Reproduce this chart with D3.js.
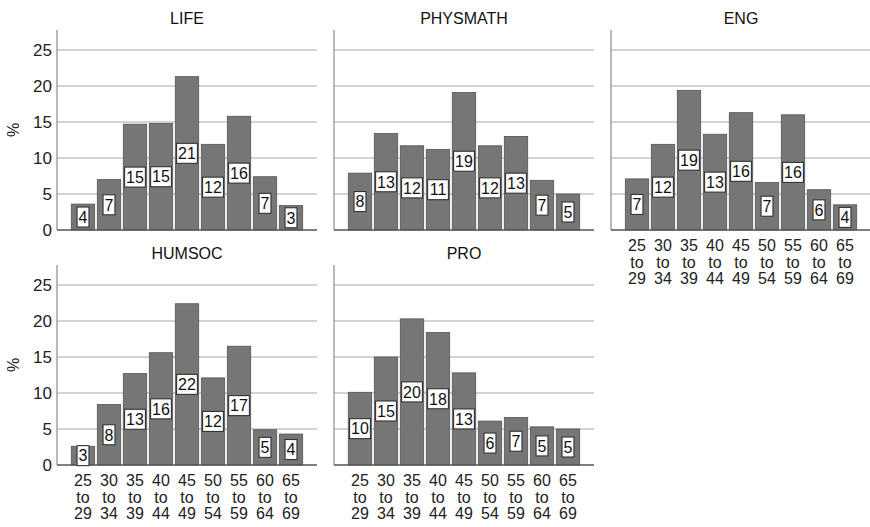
<!DOCTYPE html>
<html>
<head>
<meta charset="utf-8">
<script src="https://cdn.jsdelivr.net/npm/d3@7"></script>
<style>
  html, body { margin: 0; padding: 0; background: #fff; }
  svg { display: block; font-family: "Liberation Sans", Arial, sans-serif; }
</style>
</head>
<body>
<svg id="chart" width="870" height="527"></svg>
<script>
// Age bands shown on every panel
const ageGroups = ["25 to 29", "30 to 34", "35 to 39", "40 to 44", "45 to 49",
                   "50 to 54", "55 to 59", "60 to 64", "65 to 69"];

// Percentage of staff in each age band, by field
const lifeValues     = [3.6, 7.0, 14.7, 14.8, 21.3, 11.9, 15.8, 7.4, 3.4];
const physmathValues = [7.9, 13.4, 11.7, 11.2, 19.1, 11.7, 13.0, 6.9, 5.0];
const engValues      = [7.1, 11.9, 19.4, 13.3, 16.3, 6.6, 16.0, 5.6, 3.5];
const humsocValues   = [2.6, 8.4, 12.7, 15.6, 22.4, 12.1, 16.5, 4.9, 4.3];
const proValues      = [10.1, 15.0, 20.3, 18.4, 12.8, 6.1, 6.6, 5.3, 5.0];

const yTicks = [0, 5, 10, 15, 20, 25];

const panels = [
  { name: "LIFE",     values: lifeValues,     row: 0, col: 0 },
  { name: "PHYSMATH", values: physmathValues, row: 0, col: 1 },
  { name: "ENG",      values: engValues,      row: 0, col: 2 },
  { name: "HUMSOC",   values: humsocValues,   row: 1, col: 0 },
  { name: "PRO",      values: proValues,      row: 1, col: 1 }
];

const svg = d3.select("#chart");

const colLeft = [57, 334, 611];
const panelWidth = 260;
const rowTop = [30, 265];
const panelHeight = 200;

const yMax = 27.78;
const fontFamily = '"Liberation Sans", Arial, sans-serif';

// Panels that carry the age-band axis labels (bottom of each column)
const showXLabels = p => (p.row === 1) || (p.col === 2);
const showYLabels = p => p.col === 0;

panels.forEach(p => {
  const x0 = colLeft[p.col];
  const y0 = rowTop[p.row];

  const x = d3.scaleBand()
    .domain(ageGroups)
    .range([x0, x0 + panelWidth])
    .paddingInner(0.1)
    .paddingOuter(0.55);

  const y = d3.scaleLinear()
    .domain([0, yMax])
    .range([y0 + panelHeight, y0]);

  const g = svg.append("g");

  // horizontal gridlines
  g.selectAll("line.grid")
    .data(yTicks.filter(t => t > 0))
    .join("line")
    .attr("class", "grid")
    .attr("x1", x0).attr("x2", x0 + panelWidth)
    .attr("y1", d => y(d)).attr("y2", d => y(d))
    .attr("stroke", "#c4c4c4")
    .attr("stroke-width", 1.3);

  // title
  g.append("text")
    .attr("x", x0 + panelWidth / 2)
    .attr("y", y0 - 6)
    .attr("text-anchor", "middle")
    .attr("font-size", 16)
    .attr("fill", "#111")
    .text(p.name);

  // bars
  g.selectAll("rect.bar")
    .data(p.values)
    .join("rect")
    .attr("class", "bar")
    .attr("x", (d, i) => x(ageGroups[i]))
    .attr("width", x.bandwidth())
    .attr("y", d => y(d))
    .attr("height", d => y(0) - y(d))
    .attr("fill", "#767676")
    .attr("stroke", "#555")
    .attr("stroke-width", 0.8);

  // left axis line and baseline
  g.append("line")
    .attr("x1", x0).attr("x2", x0)
    .attr("y1", y0).attr("y2", y(0))
    .attr("stroke", "#8a8a8a").attr("stroke-width", 1.2);
  g.append("line")
    .attr("x1", x0).attr("x2", x0 + panelWidth)
    .attr("y1", y(0)).attr("y2", y(0))
    .attr("stroke", "#555").attr("stroke-width", 1.3);

  // y tick labels
  if (showYLabels(p)) {
    const yAxis = d3.axisLeft(y).tickValues(yTicks).tickSize(0).tickPadding(5);
    const ag = g.append("g").attr("transform", `translate(${x0},0)`).call(yAxis);
    ag.select(".domain").remove();
    ag.selectAll("text")
      .attr("font-size", 17)
      .attr("font-family", fontFamily)
      .attr("fill", "#222");

    g.append("text")
      .attr("transform", `translate(19,${y0 + panelHeight / 2}) rotate(-90)`)
      .attr("text-anchor", "middle")
      .attr("font-size", 16)
      .attr("fill", "#222")
      .text("%");
  }

  // x tick labels, three lines each
  if (showXLabels(p)) {
    const xAxis = d3.axisBottom(x).tickSize(0).tickPadding(0).tickFormat("");
    const xg = g.append("g").attr("transform", `translate(0,${y(0)})`).call(xAxis);
    xg.select(".domain").remove();
    xg.selectAll(".tick").each(function(d) {
      const parts = d.split(" ");
      const t = d3.select(this).append("text")
        .attr("text-anchor", "middle")
        .attr("font-size", 16)
        .attr("font-family", fontFamily)
        .attr("fill", "#222");
      parts.forEach((s, k) => {
        t.append("tspan")
          .attr("x", 0)
          .attr("y", 21 + k * 16.5)
          .text(s);
      });
    });
  }

  // value labels in white boxes at half bar height
  const labels = g.selectAll("g.val")
    .data(p.values)
    .join("g")
    .attr("class", "val")
    .attr("transform", (d, i) =>
      `translate(${x(ageGroups[i]) + x.bandwidth() / 2},${y(d / 2)})`);

  labels.each(function(d) {
    const lg = d3.select(this);
    const txt = String(Math.round(d));
    const tw = txt.length * 8.9;
    lg.append("rect")
      .attr("x", -tw / 2 - 1.5)
      .attr("y", -10)
      .attr("width", tw + 3)
      .attr("height", 20)
      .attr("fill", "#fff")
      .attr("stroke", "#333")
      .attr("stroke-width", 1.1);
    lg.append("text")
      .attr("text-anchor", "middle")
      .attr("dy", "0.36em")
      .attr("font-size", 16)
      .attr("fill", "#111")
      .text(txt);
  });
});
</script>
</body>
</html>
